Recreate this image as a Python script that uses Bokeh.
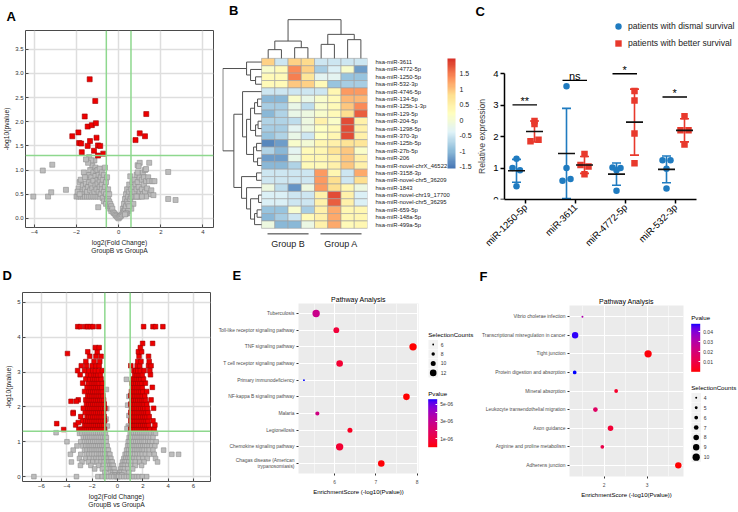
import math
import numpy as np
from bokeh.plotting import figure
from bokeh.models import (Range1d, FactorRange, ColumnDataSource, Span, Title, ColorBar,
                          LinearColorMapper, FixedTicker, Legend, LegendItem, LinearInterpolator,
                          NumeralTickFormatter, LinearAxis)
from bokeh.layouts import row, column
from bokeh.transform import transform, linear_cmap
from bokeh.embed import file_html
from bokeh.resources import INLINE
from bokeh.core.properties import value

FONT = "Liberation Sans"

# ======================= DATA =======================
# ---- A: volcano (small) ----
A_fc_threshold = 0.585
A_p_threshold = 1.301
A_red = [(-1.375, 2.88), (-1.11, 2.43), (-1.61, 2.11), (-1.47, 1.90), (-1.27, 1.93), (-1.08, 1.97),
         (-1.91, 1.78), (-2.20, 1.70), (-1.05, 1.67), (-1.875, 1.56), (-1.78, 1.55), (-1.36, 1.60),
         (-1.47, 1.50), (-0.98, 1.51), (-0.875, 1.50), (-1.17, 1.40), (-1.75, 1.37), (-0.98, 1.30),
         (-0.73, 1.34), (1.31, 2.16), (1.00, 1.76), (0.80, 1.62), (1.25, 1.70)]
A_gray = [(-4.05, 0.45), (-3.6, 0.99), (-3.35, 0.45), (-3.2, 0.54), (-3.15, 1.11), (-2.5, 0.59),
          (-2.0, 0.45), (-1.9, 0.45), (-1.8, 0.45), (-1.7, 0.45), (-1.6, 0.45), (-1.5, 0.45), (-1.4, 0.45),
          (-1.3, 0.45), (-1.2, 0.45), (-1.1, 0.45), (-1.0, 0.45), (-0.9, 0.45),
          (-1.9, 0.62), (-1.85, 0.75), (-1.8, 0.8), (-1.75, 0.55), (-1.7, 0.68), (-1.65, 0.95), (-1.6, 0.6),
          (-1.55, 0.72), (-1.5, 0.85), (-1.5, 0.55), (-1.45, 0.65), (-1.4, 0.9), (-1.4, 0.75), (-1.35, 1.0),
          (-1.35, 0.58), (-1.3, 0.7), (-1.3, 0.85), (-1.25, 1.1), (-1.25, 0.62), (-1.2, 0.95), (-1.2, 0.78),
          (-1.15, 1.2), (-1.15, 0.55), (-1.1, 0.88), (-1.1, 0.68), (-1.1, 1.05), (-1.05, 0.98), (-1.05, 0.6),
          (-1.0, 0.8), (-1.0, 0.72), (-1.0, 1.0), (-0.95, 0.9), (-0.95, 0.55), (-0.9, 1.03), (-0.9, 0.65),
          (-0.9, 0.78), (-0.85, 0.85), (-0.85, 0.5), (-0.8, 0.95), (-0.8, 0.7), (-0.8, 0.6), (-0.75, 0.8),
          (-0.75, 0.42), (-0.7, 0.9), (-0.7, 0.55), (-0.7, 0.35), (-0.65, 0.65), (-0.65, 1.05), (-0.6, 0.75),
          (-0.6, 0.5), (-0.6, 0.3), (-0.55, 0.85), (-0.55, 0.4), (-0.5, 0.6), (-0.5, 0.45), (-0.5, 0.25),
          (-0.45, 0.35), (-0.45, 0.5), (-0.4, 0.3), (-0.4, 0.2), (-0.35, 0.25), (-0.35, 0.15), (-0.3, 0.2),
          (-0.25, 0.12), (-0.2, 0.1), (-0.15, 0.07), (-0.1, 0.05), (-0.05, 0.02), (0.0, 0.0), (-1.4, 1.27),
          (-1.3, 1.2), (-1.6, 0.85), (-1.95, 0.55), (-1.85, 0.5), (-0.97, 0.23), (-1.45, 1.15), (-1.55, 1.22),
          (0.05, 0.03), (0.1, 0.05), (0.15, 0.08), (0.2, 0.12), (0.2, 0.2), (0.25, 0.15), (0.25, 0.3),
          (0.3, 0.2), (0.3, 0.4), (0.35, 0.25), (0.35, 0.5), (0.4, 0.35), (0.4, 0.6), (0.45, 0.3),
          (0.45, 0.45), (0.5, 0.55), (0.5, 0.7), (0.55, 0.4), (0.55, 0.87), (0.6, 0.6), (0.6, 0.45),
          (0.65, 0.75), (0.65, 0.5), (0.7, 0.65), (0.7, 0.45), (0.75, 0.8), (0.75, 0.55), (0.8, 0.7),
          (0.8, 0.45), (0.85, 0.9), (0.85, 0.6), (0.9, 1.1), (0.9, 0.75), (0.95, 0.45), (0.95, 0.65),
          (1.0, 0.85), (1.0, 0.55), (1.05, 0.45), (1.1, 0.8), (1.1, 0.6), (1.15, 0.95), (1.15, 0.5),
          (1.2, 0.7), (1.2, 0.85), (1.25, 0.55), (1.3, 0.77), (1.35, 0.62), (1.4, 0.85), (1.45, 0.77),
          (1.5, 0.5), (1.6, 0.77), (1.7, 0.77), (1.45, 1.15), (1.0, 1.15), (0.95, 1.08), (0.9, 0.95),
          (1.3, 0.45), (1.1, 0.45), (0.85, 0.45), (0.7, 0.3), (0.6, 0.2), (0.5, 0.25), (0.45, 0.15),
          (0.4, 0.1), (0.35, 0.1), (0.3, 0.08), (1.25, 1.0), (1.3, 1.02), (2.35, 0.96), (2.35, 0.40),
          (2.7, 0.38), (1.55, 0.58), (1.65, 0.48)]
A_xticks = [-4, -2, 0, 2, 4]
A_yticks = [0.0, 0.5, 1.0, 1.5, 2.0, 2.5, 3.0, 3.5]

# ---- B: heatmap ----
B_genes = ["hsa-miR-3611", "hsa-miR-4772-5p", "hsa-miR-1250-5p", "hsa-miR-532-3p", "hsa-miR-4746-5p",
           "hsa-miR-134-5p", "hsa-miR-125b-1-3p", "hsa-miR-129-5p", "hsa-miR-204-5p", "hsa-miR-1298-5p",
           "hsa-miR-370-3p", "hsa-miR-125b-5p", "hsa-miR-27b-5p", "hsa-miR-206", "hsa-miR-novel-chrX_46522",
           "hsa-miR-3158-3p", "hsa-miR-novel-chr5_36209", "hsa-miR-1843", "hsa-miR-novel-chr19_17700",
           "hsa-miR-novel-chr5_36295", "hsa-miR-659-5p", "hsa-miR-148a-5p", "hsa-miR-499a-5p"]
B_values = [
    [0.9, -0.5, 0.9, 0.85, -0.5, -0.5, -0.5, -0.5],
    [0.1, 0.3, 1.4, 0.9, -0.8, -0.4, 0.1, -1.2],
    [0.3, 0.3, 1.5, 0.7, -0.3, -0.3, -0.9, -0.9],
    [0.3, 0.3, 1.0, 0.9, 0.3, -0.9, -0.8, -0.8],
    [-0.5, -0.5, -0.5, -0.5, -0.5, 0.4, 1.3, 1.3],
    [-1.0, -1.0, 0.1, -0.2, 0.1, 0.3, 1.1, 1.1],
    [-0.8, -0.8, -0.2, -0.6, 0.1, 0.3, 1.0, 1.4],
    [-1.0, -0.7, -0.2, -0.1, 0.1, 0.3, 0.8, 1.7],
    [-0.7, -0.7, -0.6, -0.1, 0.5, 0.15, 1.8, 0.5],
    [-0.8, -0.8, -0.3, -0.1, 0.2, 0.3, 1.8, 0.5],
    [-0.9, -0.7, -0.2, -0.5, 0.2, 0.4, 1.8, 0.5],
    [-1.4, -1.2, 0.1, 0.0, 0.4, 0.5, 0.75, 0.7],
    [-0.7, -1.0, -0.3, 0.3, 0.4, 0.75, 1.0, 0.15],
    [-1.2, -1.2, -0.2, 0.4, 0.4, 0.5, 1.0, 0.5],
    [-1.0, -1.0, -0.7, 0.3, 0.3, 0.5, 1.0, 0.5],
    [-0.5, -0.5, -0.5, -0.5, 1.3, 0.4, -0.5, 1.2],
    [-0.5, -0.5, -0.5, -0.5, 1.3, 0.8, -0.5, 0.8],
    [-0.1, -0.6, -1.3, -0.1, 1.3, 0.8, 0.4, -0.1],
    [-0.4, -0.4, -0.5, -0.5, 0.5, 1.8, 0.5, -0.4],
    [-0.4, -0.4, -0.5, -0.5, 0.5, 1.7, 0.5, -0.4],
    [-0.9, -0.9, 0.05, -0.8, 0.5, 1.2, 0.4, 0.4],
    [-1.0, -0.8, -0.5, 0.3, 0.5, 1.2, 0.4, 0.4],
    [-0.1, -1.0, -1.0, -0.15, 0.5, 1.2, 0.3, 0.4],
]
B_groups = ["Group B", "Group A"]
B_group_cols = [(0, 4), (4, 8)]
B_col_merges = [(0, 1, 8.7), (2, 3, 10.7), (8, 9, 17.3), (4, 5, 14.0), (6, 7, 18.7), (11, 12, 24.0), (10, 13, 38.7)]
B_row_merges = [(2, 3, 6), (1, 23, 11), (0, 24, 15), (5, 6, 4), (26, 7, 7), (8, 9, 3.5), (28, 10, 6),
                (27, 29, 11), (11, 12, 5), (13, 14, 4), (31, 32, 8), (30, 33, 15), (4, 34, 19),
                (15, 16, 5), (18, 19, 3), (20, 21, 4.5), (38, 22, 7), (37, 39, 11), (17, 40, 15),
                (36, 41, 20), (35, 42, 27.7), (25, 43, 38.7)]
B_cbar_ticks = [-1.5, -1, -0.5, 0, 0.5, 1, 1.5]
B_cbar_low, B_cbar_high = -1.55, 2.0

# ---- C: qPCR dot plot ----
C_cats = ["miR-1250-5p", "miR-3611", "miR-4772-5p", "miR-532-3p"]
C_dismal = [[1.30, 1.00, 0.93, 0.42], [3.60, 1.00, 0.60, 0.65], [1.02, 1.00, 0.93, 0.28], [1.25, 1.25, 0.98, 0.35]]
C_dismal_jit = [[0, -0.08, 0.07, 0], [0, 0, -0.08, 0.08], [-0.08, 0.08, 0, 0], [-0.08, 0.08, 0, 0]]
C_better = [[2.50, 2.40, 1.85, 1.90], [1.45, 1.10, 1.05, 0.80], [3.45, 3.15, 2.10, 1.15], [2.65, 2.20, 2.20, 1.75]]
C_better_jit = [[0, 0, -0.08, 0.08], [0, -0.08, 0.08, 0], [0, 0, 0, 0], [0, -0.08, 0.08, 0]]
C_sig_text = ["**", "ns", "*", "*"]
C_sig_y = [3.01, 3.79, 4.0, 3.26]
C_series = ["patients with dismal survival", "patients with better survival"]

# ---- D: volcano (large) ----
D_fc_threshold = 1.0
D_p_threshold = 1.301
D_red_rows = [
    (1.36, [-3.05, -2.85, -2.7, -2.55, -2.4, -2.25, -2.1, -1.95, -1.8, -1.65, -1.5, -1.35, -1.2, -1.05,
            1.05, 1.2, 1.35, 1.5, 1.65, 1.8, 1.95, 2.1, 2.25, 2.4, 2.55, 2.9]),
    (1.48, [-3.3, -2.6, -2.45, -2.3, -2.15, -2.0, -1.85, -1.7, -1.55, -1.4, -1.25, -1.1,
            1.1, 1.25, 1.4, 1.55, 1.7, 1.85, 2.0, 2.15, 2.3, 2.45, 2.95]),
    (1.60, [-2.75, -2.5, -2.35, -2.2, -2.05, -1.9, -1.75, -1.6, -1.45, -1.3, -1.15, -1.02,
            1.05, 1.2, 1.35, 1.5, 1.65, 1.8, 1.95, 2.1, 2.25, 2.4, 2.8]),
    (1.72, [-2.9, -2.4, -2.25, -2.1, -1.95, -1.8, -1.65, -1.5, -1.35, -1.2, -1.05,
            1.1, 1.25, 1.4, 1.55, 1.7, 1.85, 2.0, 2.15, 2.3, 2.5]),
    (1.84, [-3.5, -2.55, -2.3, -2.15, -2.0, -1.85, -1.7, -1.55, -1.4, -1.25, -1.1,
            1.05, 1.2, 1.35, 1.5, 1.65, 1.8, 1.95, 2.1, 2.25, 2.4]),
    (1.96, [-2.7, -2.35, -2.2, -2.05, -1.9, -1.75, -1.6, -1.45, -1.3, -1.15, -1.0,
            1.1, 1.25, 1.4, 1.55, 1.7, 1.85, 2.0, 2.15, 2.35, 2.85]),
    (2.08, [-2.45, -2.25, -2.1, -1.95, -1.8, -1.65, -1.5, -1.35, -1.2, -1.05,
            1.05, 1.2, 1.35, 1.5, 1.65, 1.8, 1.95, 2.1, 2.3]),
    (2.20, [-3.1, -2.5, -2.3, -2.15, -2.0, -1.85, -1.7, -1.55, -1.4, -1.25, -1.1,
            1.15, 1.3, 1.45, 1.6, 1.75, 1.9, 2.05, 2.2, 2.65]),
    (2.32, [-2.35, -2.2, -2.05, -1.9, -1.75, -1.6, -1.45, -1.3, -1.15,
            1.05, 1.2, 1.35, 1.5, 1.65, 1.8, 1.95, 2.15]),
    (2.44, [-2.6, -2.25, -2.1, -1.95, -1.8, -1.65, -1.5, -1.35, -1.2,
            1.1, 1.25, 1.4, 1.55, 1.7, 1.85, 2.0, 2.3]),
    (2.56, [-2.4, -2.15, -2.0, -1.85, -1.7, -1.55, -1.4, -1.25, 1.2, 1.35, 1.5, 1.65, 1.8, 1.95, 2.75]),
    (2.68, [-2.75, -2.3, -2.05, -1.9, -1.75, -1.6, -1.45, -1.2, 1.15, 1.3, 1.45, 1.6, 1.75, 1.9, 2.2]),
    (2.80, [-2.5, -2.2, -1.95, -1.8, -1.65, -1.5, -1.3, 1.25, 1.4, 1.55, 1.7, 1.85, 2.05]),
    (2.92, [-2.95, -2.35, -2.1, -1.85, -1.7, -1.55, -1.35, 1.35, 1.5, 1.65, 1.8, 1.95, 2.6]),
    (3.04, [-3.15, -2.6, -2.25, -1.95, -1.75, -1.5, -1.2, 1.3, 1.45, 1.6, 1.8, 2.1, 2.55]),
    (3.18, [-2.86, -2.45, -2.0, -1.7, -1.45, 1.05, 1.55, 1.75, 2.45, 2.65]),
    (3.30, [-2.5, -1.85, -1.4, 1.6, 1.85, 2.5]),
    (3.45, [-2.2, -1.7, -1.3, 1.7, 2.45]),
    (3.53, [-3.95]),
    (3.58, [-2.35, -1.6, 1.65, 1.9]),
    (3.70, [-1.75, -1.45, 1.8]),
    (3.82, [1.98, 2.77]),
    (4.30, [-3.14, -2.93, -2.53, -2.35, -2.14, -1.93, -1.49, 2.06, 2.8, 3.0, 3.58]),
    (1.52, [-4.8]), (1.35, [-4.25]), (2.16, [-3.67, -3.25]), (1.81, [-3.5]), (1.55, [-3.1]),
]
D_gray_rows = [
    (1.24, [-3.0, -2.8, -2.6, -2.45, -2.3, -2.15, -2.0, -1.85, -1.7, -1.55, -1.4, -1.25, -1.1, -0.95,
            1.0, 1.15, 1.3, 1.45, 1.6, 1.75, 1.9, 2.05, 2.2, 2.35, 2.5, 2.65, 2.85, 3.0]),
    (1.12, [-2.7, -2.5, -2.35, -2.2, -2.05, -1.9, -1.75, -1.6, -1.45, -1.3, -1.15, -1.0, -0.88,
            0.92, 1.05, 1.2, 1.35, 1.5, 1.65, 1.8, 1.95, 2.1, 2.25, 2.4, 2.6, 2.8]),
    (1.00, [-3.99, -2.9, -2.6, -2.4, -2.25, -2.1, -1.95, -1.8, -1.65, -1.5, -1.35, -1.2, -1.05, -0.9,
            0.85, 1.0, 1.15, 1.3, 1.45, 1.6, 1.75, 1.9, 2.05, 2.2, 2.4, 2.55, 2.75, 3.05]),
    (0.88, [-3.2, -2.75, -2.5, -2.3, -2.15, -2.0, -1.85, -1.7, -1.55, -1.4, -1.25, -1.1, -0.95, -0.82,
            0.8, 0.95, 1.1, 1.25, 1.4, 1.55, 1.7, 1.85, 2.0, 2.15, 2.3, 2.5, 2.7, 2.95]),
    (0.76, [-3.5, -2.6, -2.4, -2.2, -2.05, -1.9, -1.75, -1.6, -1.45, -1.3, -1.15, -1.0, -0.85, -0.72,
            0.72, 0.88, 1.05, 1.2, 1.35, 1.5, 1.65, 1.8, 1.95, 2.1, 2.3, 2.5, 2.8, 3.64]),
    (0.64, [-3.72, -2.9, -2.45, -2.25, -2.05, -1.85, -1.65, -1.45, -1.3, -1.15, -1.0, -0.85, -0.7, -0.6,
            0.6, 0.75, 0.9, 1.05, 1.2, 1.35, 1.55, 1.75, 1.95, 2.2, 2.5, 2.9, 4.29, 4.82]),
    (0.52, [-3.0, -2.5, -2.2, -1.9, -1.7, -1.5, -1.3, -1.1, -0.95, -0.8, -0.65, -0.52,
            0.5, 0.65, 0.8, 0.95, 1.1, 1.3, 1.5, 1.7, 2.0, 2.35, 3.0]),
    (0.42, [-3.64, -2.8, -2.3, -1.95, -1.6, -1.3, -1.05, -0.85, -0.7, -0.55, -0.42,
            0.4, 0.55, 0.7, 0.9, 1.1, 1.4, 1.75, 2.1, 3.16]),
    (0.32, [-2.93, -2.1, -1.5, -1.1, -0.8, -0.6, -0.45, -0.34, 0.32, 0.45, 0.6, 0.8, 1.05, 1.4, 1.9]),
    (0.22, [-1.8, -1.2, -0.8, -0.55, -0.4, -0.27, 0.26, 0.38, 0.55, 0.8, 1.2]),
    (0.12, [-1.0, -0.55, -0.35, -0.2, 0.18, 0.3, 0.5, 0.9]),
    (0.05, [-0.4, -0.22, -0.1, 0.1, 0.2, 0.35]),
    (0.00, [-6.6, -3.24, -1.55, -1.2, -0.95, -0.7, -0.5, -0.3, -0.1, 0.0, 0.1, 0.3, 0.5, 0.7, 0.9,
            1.1, 1.3, 1.5, 1.7, 1.95, 2.3]),
    (1.26, [-4.85]), (2.50, [-0.88]), (2.79, [0.70]), (2.30, [0.9]), (1.95, [-0.85]), (1.65, [-0.9]),
    (1.45, [-0.8, 0.85]), (1.75, [0.9]), (2.05, [0.8]), (1.40, [0.95]), (1.35, [-0.95]), (1.38, [0.75]),
]
D_xticks = [-6, -4, -2, 0, 2, 4, 6]
D_yticks = [0, 1, 2, 3, 4, 5]

# ---- E: KEGG pathway analysis 1 ----
E_paths = ["Tuberculosis", "Toll-like receptor signaling pathway", "TNF signaling pathway",
           "T cell receptor signaling pathway", "Primary immunodeficiency", "NF-kappa B signaling pathway",
           "Malaria", "Legionellosis", "Chemokine signaling pathway", "Chagas disease (American trypanosomiasis)"]
E_wrapped = {"Chagas disease (American trypanosomiasis)": "Chagas disease (American\ntrypanosomiasis)"}
E_score = [5.55, 6.04, 7.90, 6.12, 5.255, 7.74, 5.58, 6.37, 6.12, 7.13]
E_count = [13, 11, 13, 12, 6, 12, 9, 10, 13, 12]
E_xticks = [6, 7, 8]
E_leg_counts = [6, 8, 10, 12]
E_p_ticks = [1e-06, 2e-06, 3e-06, 4e-06, 5e-06]
E_p_labels = ["1e-06", "2e-06", "3e-06", "4e-06", "5e-06"]

# ---- F: KEGG pathway analysis 2 ----
F_paths = ["Vibrio cholerae infection", "Transcriptional misregulation in cancer", "Tight junction",
           "Protein digestion and absorption", "Mineral absorption", "Leukocyte transendothelial migration",
           "Axon guidance", "Arginine and proline metabolism", "Adherens junction"]
F_score = [1.50, 1.33, 3.02, 1.32, 2.28, 1.80, 2.15, 1.96, 3.72]
F_count = [4, 9, 10, 6, 6, 7, 8, 6, 9]
F_xticks = [2, 3]
F_leg_counts = [4, 5, 6, 7, 8, 9, 10]
F_p_ticks = [0.01, 0.02, 0.03, 0.04]
F_p_labels = ["0.01", "0.02", "0.03", "0.04"]


# ======================= HELPERS =======================
def hex2rgb(h):
    h = h.lstrip("#")
    return [int(h[i:i + 2], 16) for i in (0, 2, 4)]


def rgb2hex(c):
    return "#%02x%02x%02x" % tuple(int(round(max(0, min(255, v)))) for v in c)


def ramp(stops, n):
    cols = [hex2rgb(s) for s in stops]
    out = []
    for k in range(n):
        t = k / (n - 1) * (len(cols) - 1)
        i = min(int(t), len(cols) - 2)
        f = t - i
        out.append(rgb2hex([cols[i][j] + (cols[i + 1][j] - cols[i][j]) * f for j in range(3)]))
    return out


def _to_lab(hexc):
    rgb = [v / 255 for v in hex2rgb(hexc)]
    lin = [v / 12.92 if v <= 0.04045 else ((v + 0.055) / 1.055) ** 2.4 for v in rgb]
    X = 0.4124 * lin[0] + 0.3576 * lin[1] + 0.1805 * lin[2]
    Y = 0.2126 * lin[0] + 0.7152 * lin[1] + 0.0722 * lin[2]
    Z = 0.0193 * lin[0] + 0.1192 * lin[1] + 0.9505 * lin[2]
    f = lambda t: t ** (1 / 3) if t > 0.008856 else 7.787 * t + 16 / 116
    fx, fy, fz = f(X / 0.95047), f(Y), f(Z / 1.08883)
    return [116 * fy - 16, 500 * (fx - fy), 200 * (fy - fz)]


def _from_lab(L, a, b):
    fy = (L + 16) / 116
    fx = fy + a / 500
    fz = fy - b / 200
    g = lambda f: f ** 3 if f ** 3 > 0.008856 else (f - 16 / 116) / 7.787
    X, Y, Z = 0.95047 * g(fx), g(fy), 1.08883 * g(fz)
    lin = [3.2406 * X - 1.5372 * Y - 0.4986 * Z, -0.9689 * X + 1.8758 * Y + 0.0415 * Z,
           0.0557 * X - 0.2040 * Y + 1.0570 * Z]
    out = []
    for v in lin:
        v = max(0.0, min(1.0, v))
        out.append(255 * (12.92 * v if v <= 0.0031308 else 1.055 * v ** (1 / 2.4) - 0.055))
    return rgb2hex(out)


def lab_ramp(c0, c1, n):
    a, b = _to_lab(c0), _to_lab(c1)
    return [_from_lab(*[a[j] + (b[j] - a[j]) * k / (n - 1) for j in range(3)]) for k in range(n)]


def dendro(merges, leaf_pos):
    pos = list(leaf_pos)
    hts = [0.0] * len(leaf_pos)
    p0, h0, p1, h1 = [], [], [], []
    for i, j, h in merges:
        for k in (i, j):
            p0.append(pos[k]); h0.append(hts[k]); p1.append(pos[k]); h1.append(h)
        p0.append(pos[i]); h0.append(h); p1.append(pos[j]); h1.append(h)
        pos.append((pos[i] + pos[j]) / 2)
        hts.append(h)
    return p0, h0, p1, h1


def base_fig(W, H, l, r, t, b, **kw):
    kw.setdefault("title", None)
    p = figure(width=W, height=H, output_backend="svg", toolbar_location=None, frame_align=False,
               min_border_left=l, min_border_right=r, min_border_top=t, min_border_bottom=b, **kw)
    return p


def letter_style(t, offset, standoff):
    t.align = "left"
    t.offset = offset
    t.standoff = standoff
    t.text_font = FONT
    t.text_font_style = "bold"
    t.text_font_size = "13px"
    t.text_color = "black"


def style_axis(ax, size, color="#333333"):
    ax.major_label_text_font = FONT
    ax.major_label_text_font_size = size
    ax.major_label_text_color = color
    ax.axis_label_text_font = FONT
    ax.axis_label_text_font_style = "normal"
    ax.minor_tick_line_color = None


# ======================= VOLCANO (A, D) =======================
def volcano(W, H, l, r, t, b, xr, yr, xt, yt, yfmt, gray, red, fc, pthr, msize, letter, loff, lstand):
    p = base_fig(W, H, l, r, t, b, x_range=Range1d(*xr), y_range=Range1d(*yr), title=letter)
    letter_style(p.title, loff, lstand)
    p.outline_line_color = "#4a4a4a"
    p.xaxis.ticker = FixedTicker(ticks=xt)
    p.yaxis.ticker = FixedTicker(ticks=yt)
    p.yaxis.formatter = NumeralTickFormatter(format=yfmt)
    for ax in (p.xaxis[0], p.yaxis[0]):
        style_axis(ax, "6px")
        ax.axis_line_color = None
        ax.major_tick_in = 3
        ax.major_tick_out = 0
        ax.major_tick_line_color = "#4a4a4a"
        ax.major_label_standoff = 2
        ax.axis_label_text_font_size = "6.7px"
        ax.axis_label_text_color = "#222222"
        ax.axis_label_standoff = 2
    p.xaxis.axis_label = "log2(Fold Change)\nGroupB vs GroupA"
    p.yaxis.axis_label = "-log10(pvalue)"
    p.grid.grid_line_color = "#dedede"
    p.grid.grid_line_width = 1.5
    gx, gy = zip(*gray)
    rx, ry = zip(*red)
    p.scatter(list(gx), list(gy), marker="square", size=msize, fill_color="#bdbdbd",
              line_color="#8f8f8f", line_width=0.6)
    p.scatter(list(rx), list(ry), marker="square", size=msize, fill_color="#ee0000",
              line_color="#a00000", line_width=0.6)
    for loc in (-fc, fc):
        p.add_layout(Span(location=loc, dimension="height", line_color="#8ed88e", line_width=1.5))
    p.add_layout(Span(location=pthr, dimension="width", line_color="#8ed88e", line_width=1.5))
    return p


pA = volcano(214, 256, 22, 1, 29, 29, (-4.42, 4.5), (-0.19, 3.89), A_xticks, A_yticks, "0.0",
             A_gray, A_red, A_fc_threshold, A_p_threshold, 5, "A", -19, 13)

D_red = [(x, y) for y, xs in D_red_rows for x in xs]
D_gray = [(x, y) for y, xs in D_gray_rows for x in xs]
pD = volcano(214, 254, 22, 4, 35, 26, (-7.5, 7.34), (-0.14, 5.28), D_xticks, D_yticks, "0",
             D_gray, D_red, D_fc_threshold, D_p_threshold, 4.6, "D", -20, 19)

# ======================= B: HEATMAP =======================
nrow, ncol = len(B_genes), len(B_values[0])
B_W, B_H, B_l, B_r, B_top, B_bot = 260, 256, 8, 107, 0, 6
Bx0, Bx1 = -2.95, float(ncol)
By0 = -3.0
B_row_px = 7.39
By1 = By0 + (B_H - B_top - B_bot) / B_row_px
B_col_px = (B_W - B_l - B_r) / (Bx1 - Bx0)

pB = base_fig(B_W, B_H, B_l, B_r, B_top, B_bot, x_range=Range1d(Bx0, Bx1), y_range=Range1d(By0, By1),
              x_axis_location=None, y_axis_location=None)
pB.outline_line_color = None
pB.grid.visible = False
pB.extra_y_ranges = {"dtop": Range1d(start=(By0 - nrow) * B_row_px, end=(By1 - nrow) * B_row_px)}
pB.extra_x_ranges = {"dleft": Range1d(start=-Bx0 * B_col_px, end=-Bx1 * B_col_px)}

heat_pal = ramp(["#4575B4", "#91BFDB", "#E0F3F8", "#FFFFBF", "#FEE090", "#FC8D59", "#D73027"], 100)
hx, hy, hv = [], [], []
for r_i in range(nrow):
    for c_i in range(ncol):
        hx.append(c_i + 0.5)
        hy.append(nrow - r_i - 0.5)
        hv.append(B_values[r_i][c_i])
hsrc = ColumnDataSource(dict(x=hx, y=hy, v=hv))
pB.rect(x="x", y="y", width=1, height=1, source=hsrc,
        fill_color=linear_cmap("v", heat_pal, B_cbar_low, B_cbar_high),
        line_color="#a0a0a0", line_width=0.6)

c0, ch0, c1, ch1 = dendro(B_col_merges, [c + 0.5 for c in range(ncol)])
pB.segment(x0=c0, y0=ch0, x1=c1, y1=ch1, y_range_name="dtop", line_color="#505050", line_width=1)
r0, rh0, r1, rh1 = dendro(B_row_merges, [nrow - r - 0.5 for r in range(nrow)])
pB.segment(x0=rh0, y0=r0, x1=rh1, y1=r1, x_range_name="dleft", line_color="#505050", line_width=1)

row_ticks = [nrow - r - 0.5 for r in range(nrow)]
raxis = LinearAxis(ticker=FixedTicker(ticks=row_ticks),
                   major_label_overrides={t: g for t, g in zip(row_ticks, B_genes)})
raxis.axis_line_color = None
raxis.major_tick_line_color = None
raxis.minor_tick_line_color = None
raxis.major_label_standoff = 2
raxis.major_label_text_font = FONT
raxis.major_label_text_font_size = "5.9px"
raxis.major_label_text_color = "#222222"
pB.add_layout(raxis, "right")

gx0 = [a + 0.45 for a, b in B_group_cols]
gx1 = [b - 0.45 for a, b in B_group_cols]
gxc = [(a + b) / 2 for a, b in B_group_cols]
pB.segment(x0=gx0, y0=[-0.75] * 2, x1=gx1, y1=[-0.75] * 2, line_color="#333333", line_width=1)
pB.text(x=gxc, y=[-2.15] * 2, text=B_groups, text_font=value(FONT), text_font_size="9px",
        text_align="center", text_baseline="middle", text_color="#222222")
pB.text(x=[Bx0 + 0.5], y=[By1 - 1.35], text=["B"], text_font=value(FONT), text_font_size="13px",
        text_font_style="bold", text_align="left", text_baseline="middle", text_color="black")

heat_mapper = LinearColorMapper(palette=heat_pal, low=B_cbar_low, high=B_cbar_high)
cbB = ColorBar(color_mapper=heat_mapper, location=(225, 82), width=8, height=110, padding=0,
               orientation="vertical", ticker=FixedTicker(ticks=B_cbar_ticks),
               major_label_overrides={t: ("%g" % t) for t in B_cbar_ticks},
               major_label_text_font=FONT, major_label_text_font_size="7px",
               major_label_text_color="#222222", label_standoff=4,
               major_tick_line_color=None, bar_line_color=None, border_line_color=None,
               background_fill_alpha=0)
pB.add_layout(cbB)

# ======================= C: DOT PLOT =======================
C_W, C_H, C_bot = 264, 256, 57
C_px_x, C_px_y = 50.0, 31.43
C_axis_x = -0.42
C_x0 = C_axis_x - 30 / C_px_x
pC = base_fig(C_W, C_H, 0, 0, 0, C_bot, x_range=Range1d(C_x0, C_x0 + C_W / C_px_x),
              y_range=Range1d(0, (C_H - C_bot) / C_px_y))
pC.outline_line_color = None
pC.grid.visible = False
GOFF = [-0.18, 0.18]
COLS = ["#1f7bc0", "#e8392c"]
rends = []
for g, (vals, jit) in enumerate([(C_dismal, C_dismal_jit), (C_better, C_better_jit)]):
    xs, ys = [], []
    mx, mean, lo, hi = [], [], [], []
    for i in range(len(C_cats)):
        for v, j in zip(vals[i], jit[i]):
            xs.append(i + GOFF[g] + j)
            ys.append(v)
        arr = np.array(vals[i])
        m, s = arr.mean(), arr.std(ddof=1)
        mx.append(i + GOFF[g]); mean.append(m); lo.append(m - s); hi.append(m + s)
    pC.segment(x0=mx, y0=lo, x1=mx, y1=hi, line_color=COLS[g], line_width=1.6)
    pC.scatter(mx + mx, lo + hi, marker="dash", size=9, line_color=COLS[g], line_width=1.6)
    if g == 0:
        r_ = pC.scatter(xs, ys, marker="circle", size=6.5, fill_color=COLS[g], line_color=None)
    else:
        r_ = pC.scatter(xs, ys, marker="square", size=6.5, fill_color=COLS[g], line_color=None)
    pC.scatter(mx, mean, marker="dash", size=17, line_color="#111111", line_width=1.6)
    rends.append(r_)

ci = list(range(len(C_cats)))
pC.segment(x0=[i - 0.26 for i in ci], y0=C_sig_y, x1=[i + 0.23 for i in ci], y1=C_sig_y,
           line_color="black", line_width=1.4)
pC.text(x=[i - 0.015 for i in ci], y=C_sig_y, text=C_sig_text, text_font=value(FONT),
        text_font_size="11px", text_align="center", text_baseline="alphabetic", y_offset=-4,
        text_color="black")
pC.text(x=[C_x0 + 1 / C_px_x], y=[(C_H - C_bot - 11) / C_px_y], text=["C"], text_font=value(FONT),
        text_font_size="13px", text_font_style="bold", text_align="left", text_baseline="middle",
        text_color="black")

pC.xaxis.ticker = FixedTicker(ticks=ci)
pC.xaxis.major_label_overrides = {i: c for i, c in zip(ci, C_cats)}
pC.xaxis.major_label_orientation = math.pi / 4
pC.xaxis.bounds = (C_axis_x, 3.42)
pC.yaxis.ticker = FixedTicker(ticks=[0, 1, 2, 3, 4])
pC.yaxis.bounds = (0, 4)
pC.yaxis.fixed_location = C_axis_x
pC.yaxis.axis_label = "Relative expression"
for ax in (pC.xaxis[0], pC.yaxis[0]):
    style_axis(ax, "9.5px", "black")
    ax.axis_line_width = 1.5
    ax.axis_line_color = "black"
    ax.major_tick_line_width = 1.5
    ax.major_tick_line_color = "black"
    ax.major_tick_in = 0
    ax.major_tick_out = 4
    ax.major_label_standoff = 2
    ax.axis_label_text_font_size = "8.6px"
    ax.axis_label_standoff = 3
legC = Legend(items=[LegendItem(label=C_series[0], renderers=[rends[0]]),
                     LegendItem(label=C_series[1], renderers=[rends[1]])],
              location=(136, 148.3), orientation="vertical", padding=0, margin=0, spacing=1,
              glyph_width=16, glyph_height=16, label_height=16, label_standoff=2,
              label_text_font=FONT, label_text_font_size="8.6px", label_text_color="#222222",
              background_fill_alpha=0, border_line_color=None)
pC.add_layout(legC)


# ======================= E, F: PATHWAY BUBBLES =======================
def pathway(W, H, l, r, t, b, paths, wrapped, score, count, xticks, size_map, pal, letter, loff, lstand):
    lo_, hi_ = min(score), max(score)
    pad = 0.05 * (hi_ - lo_)
    pvals = [10 ** (-s) for s in score]
    factors = [wrapped.get(n, n) for n in paths]
    p = base_fig(W, H, l, r, t, b, x_range=Range1d(lo_ - pad, hi_ + pad),
                 y_range=FactorRange(factors=list(reversed(factors)), range_padding=0.2 / len(paths)),
                 title=letter)
    letter_style(p.title, loff, lstand)
    p.add_layout(Title(text="Pathway Analysis", align="center", text_font=FONT, text_font_style="normal",
                       text_font_size="7px", standoff=2, text_color="black"), "above")
    p.background_fill_color = "#EBEBEB"
    p.outline_line_color = None
    p.xgrid.grid_line_color = "white"
    p.xgrid.grid_line_width = 1
    p.xgrid.minor_grid_line_color = "white"
    p.xgrid.minor_grid_line_width = 0.5
    p.ygrid.grid_line_color = "white"
    p.ygrid.grid_line_width = 1
    p.xaxis.ticker = FixedTicker(ticks=xticks, minor_ticks=[x - 0.5 for x in xticks] + [xticks[-1] + 0.5])
    for ax in (p.xaxis[0], p.yaxis[0]):
        style_axis(ax, "4.9px", "#4D4D4D")
        ax.axis_line_color = None
        ax.major_tick_line_color = "#333333"
        ax.major_tick_in = 0
        ax.major_tick_out = 2
        ax.major_label_standoff = 2
    p.xaxis.axis_label = "EnrichmentScore (-log10(Pvalue))"
    p.xaxis.axis_label_text_font_size = "6px"
    p.xaxis.axis_label_text_color = "black"
    p.xaxis.axis_label_standoff = 2
    src = ColumnDataSource(dict(path=factors, score=score, count=count, p=pvals))
    p.scatter(x="score", y="path", size=transform("count", size_map), source=src,
              fill_color=linear_cmap("p", pal, min(pvals), max(pvals)), line_color=None)
    return p, min(pvals), max(pvals)


gg_pal = lab_ramp("#FF0000", "#0000FF", 256)
E_size = LinearInterpolator(x=[6, 13], y=[1.8, 7.4])
F_size = LinearInterpolator(x=[4, 10], y=[2.0, 7.3])

pE, E_pmin, E_pmax = pathway(206, 254, 84, 2, 46, 37, E_paths, E_wrapped, E_score, E_count, E_xticks,
                             E_size, gg_pal, "E", -66, 19)
pF, F_pmin, F_pmax = pathway(206, 254, 90, 1, 46, 34, F_paths, {}, F_score, F_count, F_xticks,
                             F_size, gg_pal, "F", -90, 21)


def legend_fig(W, H):
    p = figure(width=W, height=H, output_backend="svg", toolbar_location=None, frame_align=False,
               x_range=Range1d(0, W), y_range=Range1d(0, H), min_border=0, title=None,
               x_axis_location=None, y_axis_location=None)
    p.grid.visible = False
    p.outline_line_color = None
    return p


def size_legend(p, x, ytitle, counts, pitch, size_map):
    p.text(x=[x], y=[ytitle], text=["SelectionCounts"], text_font=value(FONT), text_font_size="6.2px",
           text_baseline="middle", text_align="left", text_color="black")
    ys = [ytitle - 10 - k * pitch for k in range(len(counts))]
    src = ColumnDataSource(dict(x=[x + 5] * len(counts), y=ys, c=counts, lab=[str(c) for c in counts]))
    p.rect(x="x", y="y", width=9.5, height=pitch - 0.4, source=src, fill_color="#F2F2F2", line_color=None)
    p.scatter(x="x", y="y", size=transform("c", size_map), source=src, fill_color="black", line_color=None)
    p.text(x=x + 12.5, y="y", text="lab", source=src, text_font=value(FONT), text_font_size="5px",
           text_baseline="middle", text_align="left", text_color="#333333")


def p_legend(p, x, ytitle, pmin, pmax, ticks, labels, h):
    p.text(x=[x], y=[ytitle], text=["Pvalue"], text_font=value(FONT), text_font_size="6.2px",
           text_baseline="middle", text_align="left", text_color="black")
    mapper = LinearColorMapper(palette=gg_pal, low=pmin, high=pmax)
    cb = ColorBar(color_mapper=mapper, location=(x, ytitle - 6 - h), width=9, height=h, padding=0,
                  orientation="vertical", ticker=FixedTicker(ticks=ticks),
                  major_label_overrides={t: s for t, s in zip(ticks, labels)},
                  major_label_text_font=FONT, major_label_text_font_size="5px",
                  major_label_text_color="#333333", label_standoff=3,
                  major_tick_line_color="white", major_tick_in=2, major_tick_out=0,
                  bar_line_color=None, border_line_color=None, background_fill_alpha=0)
    p.add_layout(cb)


pEl = legend_fig(58, 254)
size_legend(pEl, 7.7, 176, E_leg_counts, 9.47, E_size)
p_legend(pEl, 7.7, 117.3, E_pmin, E_pmax, E_p_ticks, E_p_labels, 48)

pFl = legend_fig(54, 254)
p_legend(pFl, 6.7, 192.7, F_pmin, F_pmax, F_p_ticks, F_p_labels, 48)
size_legend(pFl, 6.7, 122.7, F_leg_counts, 9.9, F_size)

layout = column(row(pA, pB, pC), row(pD, pE, pEl, pF, pFl))
open("out.html", "w").write(file_html(layout, INLINE))
